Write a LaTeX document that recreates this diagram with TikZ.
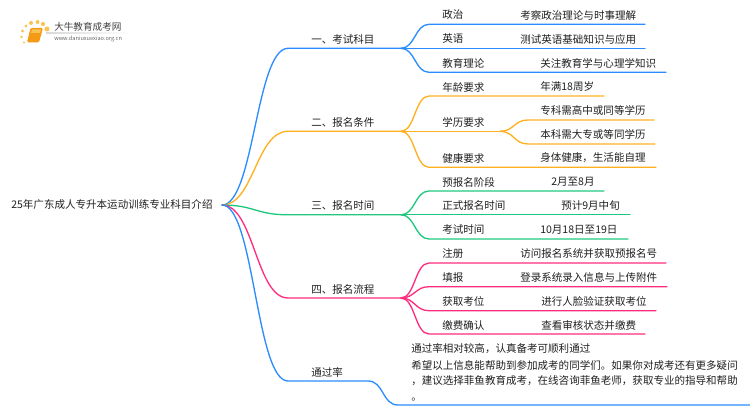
\documentclass[tikz,border=0pt]{standalone}
\usepackage{fontspec}
\setmainfont{Noto Sans CJK SC}
\definecolor{blueline}{HTML}{2B8CFF}
\definecolor{orangeline}{HTML}{FFB020}
\definecolor{greenline}{HTML}{1FC77F}
\definecolor{pinkline}{HTML}{FF2D7E}
\definecolor{booktone}{HTML}{F59A14}
\definecolor{dottone}{HTML}{FBC354}
\tikzset{
  wire/.style={line width=1pt,line cap=round},
  label/.style={anchor=west,inner sep=0pt,text=black!88,font=\fontsize{7.9pt}{9pt}\selectfont},
  spot/.style={circle,fill=dottone,inner sep=0pt,minimum size=#1},
}
\begin{document}
\begin{tikzpicture}[x=0.75pt,y=0.75pt,yscale=-1,xscale=1]
\useasboundingbox (0,0) rectangle (750,410);

%Logo
\node[spot=3.8pt] (dota) at (47,29) {};
\node[spot=3.2pt] (dotb) at (43,24) {};
\node[spot=3pt] (dotc) at (37.5,22) {};
\node[spot=3pt] (dotd) at (31,23) {};
\node[spot=2.6pt] (dote) at (26,26) {};
\node[spot=2.3pt] (dotf) at (22.5,31) {};
\node[spot=2pt] (dotg) at (21.5,37) {};
\node[spot=1.8pt] (doth) at (24,42.5) {};
\fill[booktone,rounded corners=1pt] (30.5,28) -- (43,28) -- (39,42.5) -- (27,42.5) -- cycle;
\fill[dottone] (32,29.5) -- (41,29.5) -- (40,33) -- (31,33) -- cycle;
\node[anchor=west,inner sep=0pt,text=black!75,font=\fontsize{7.2pt}{8pt}\selectfont] (logotitle) at (54,27) {大牛教育成考网};
\node[anchor=west,inner sep=0pt,text=black!60,font=\fontsize{4.2pt}{5pt}\selectfont] (logourl) at (54,39) {www.daniuxuexiao.org.cn};
\shade[left color=black!15,right color=white] (46,33) rectangle (133,34);

% Text Node
\node[label] (root) at (11,205) {25年广东成人专升本运动训练专业科目介绍};
\node[label] (kemu) at (311,39) {一、考试科目};
\node[label] (tiaojian) at (311,122) {二、报名条件};
\node[label] (shijian) at (311,205.5) {三、报名时间};
\node[label] (liucheng) at (311,289) {四、报名流程};
\node[label] (tongguo) at (311,372) {通过率};

\node[label] (zhengzhi) at (442,15) {政治};
\node[label] (yingyu) at (442,39) {英语};
\node[label] (jiaoyu) at (442,63) {教育理论};
\node[label] (zhengzhinote) at (520,15) {考察政治理论与时事理解};
\node[label] (yingyunote) at (520,39) {测试英语基础知识与应用};
\node[label] (jiaoyunote) at (540,63) {关注教育学与心理学知识};

\node[label] (nianling) at (442,87) {年龄要求};
\node[label] (xueli) at (442,122) {学历要求};
\node[label] (jiankang) at (442,158) {健康要求};
\node[label] (nianlingnote) at (540,87) {年满18周岁};
\node[label] (zhuanke) at (540,110) {专科需高中或同等学历};
\node[label] (benke) at (540,134) {本科需大专或等同学历};
\node[label] (jiankangnote) at (540,158) {身体健康，生活能自理};

\node[label] (yubao) at (442,182) {预报名阶段};
\node[label] (zhengshi) at (442,205.5) {正式报名时间};
\node[label] (kaoshi) at (442,229.5) {考试时间};
\node[label] (yubaonote) at (551,182) {2月至8月};
\node[label] (zhengshinote) at (561,205.5) {预计9月中旬};
\node[label] (kaoshinote) at (540,229.5) {10月18日至19日};

\node[label] (zhuce) at (442,254) {注册};
\node[label] (tianbao) at (442,277.5) {填报};
\node[label] (huoqu) at (442,301.5) {获取考位};
\node[label] (jiaofei) at (442,325) {缴费确认};
\node[label] (zhucenote) at (520,254) {访问报名系统并获取预报名号};
\node[label] (tianbaonote) at (520,277.5) {登录系统录入信息与上传附件};
\node[label] (huoqunote) at (541,301.5) {进行人脸验证获取考位};
\node[label] (jiaofeinote) at (541,325) {查看审核状态并缴费};

\node[label] (tongguoa) at (411,349) {通过率相对较高，认真备考可顺利通过};
\node[label] (tongguob) at (411,365) {希望以上信息能帮助到参加成考的同学们。如果你对成考还有更多疑问};
\node[label] (tongguoc) at (411,381) {，建议选择菲鱼教育成考，在线咨询菲鱼老师，获取专业的指导和帮助};
\node[label] (tongguod) at (411,400) {。};

%Junctions
\coordinate (hub) at (222,205);
\coordinate (kemuhub) at (401,48.3);
\coordinate (tiaojianhub) at (401,131.3);
\coordinate (xuelihub) at (500,131.3);
\coordinate (shijianhub) at (401,214.8);
\coordinate (liuchenghub) at (401,298);
\coordinate (tongguoend) at (368,381);

%Curve Lines
\draw[wire,blueline] (hub) .. controls +(32,0) and +(-32,0) .. (288,48.3) -- (kemuhub);
\draw[wire,orangeline] (hub) .. controls +(32,0) and +(-32,0) .. (288,131.3) -- (tiaojianhub);
\draw[wire,greenline] (hub) .. controls +(32,0) and +(-32,0) .. (288,214.8) -- (shijianhub);
\draw[wire,pinkline] (hub) .. controls +(32,0) and +(-32,0) .. (288,298) -- (liuchenghub);
\draw[wire,blueline] (hub) .. controls +(32,0) and +(-32,0) .. (288,381) -- (tongguoend) .. controls +(16,0) and +(-16,0) .. (398,405) -- (750,405);

\draw[wire,blueline] (kemuhub) .. controls +(14,0) and +(-14,0) .. (429,24.3) -- (645,24.3);
\draw[wire,blueline] (kemuhub) -- (645,48.3);
\draw[wire,blueline] (kemuhub) .. controls +(14,0) and +(-14,0) .. (429,72.3) -- (666,72.3);

\draw[wire,orangeline] (tiaojianhub) .. controls +(14,0) and +(-14,0) .. (429,96) -- (604,96);
\draw[wire,orangeline] (tiaojianhub) -- (xuelihub);
\draw[wire,orangeline] (tiaojianhub) .. controls +(14,0) and +(-14,0) .. (429,167.3) -- (656,167.3);
\draw[wire,orangeline] (xuelihub) .. controls +(14,0) and +(-14,0) .. (528,120) -- (654,120);
\draw[wire,orangeline] (xuelihub) .. controls +(14,0) and +(-14,0) .. (528,144) -- (655,144);

\draw[wire,greenline] (shijianhub) .. controls +(14,0) and +(-14,0) .. (429,191) -- (604,191);
\draw[wire,greenline] (shijianhub) -- (630,214.8);
\draw[wire,greenline] (shijianhub) .. controls +(14,0) and +(-14,0) .. (429,239) -- (628,239);

\draw[wire,pinkline] (liuchenghub) .. controls +(14,0) and +(-14,0) .. (429,263) -- (666,263);
\draw[wire,pinkline] (liuchenghub) .. controls +(14,0) and +(-14,0) .. (429,286.7) -- (667,286.7);
\draw[wire,pinkline] (liuchenghub) .. controls +(14,0) and +(-14,0) .. (429,310.7) -- (656,310.7);
\draw[wire,pinkline] (liuchenghub) .. controls +(14,0) and +(-14,0) .. (429,334) -- (645,334);

\end{tikzpicture}
\end{document}
